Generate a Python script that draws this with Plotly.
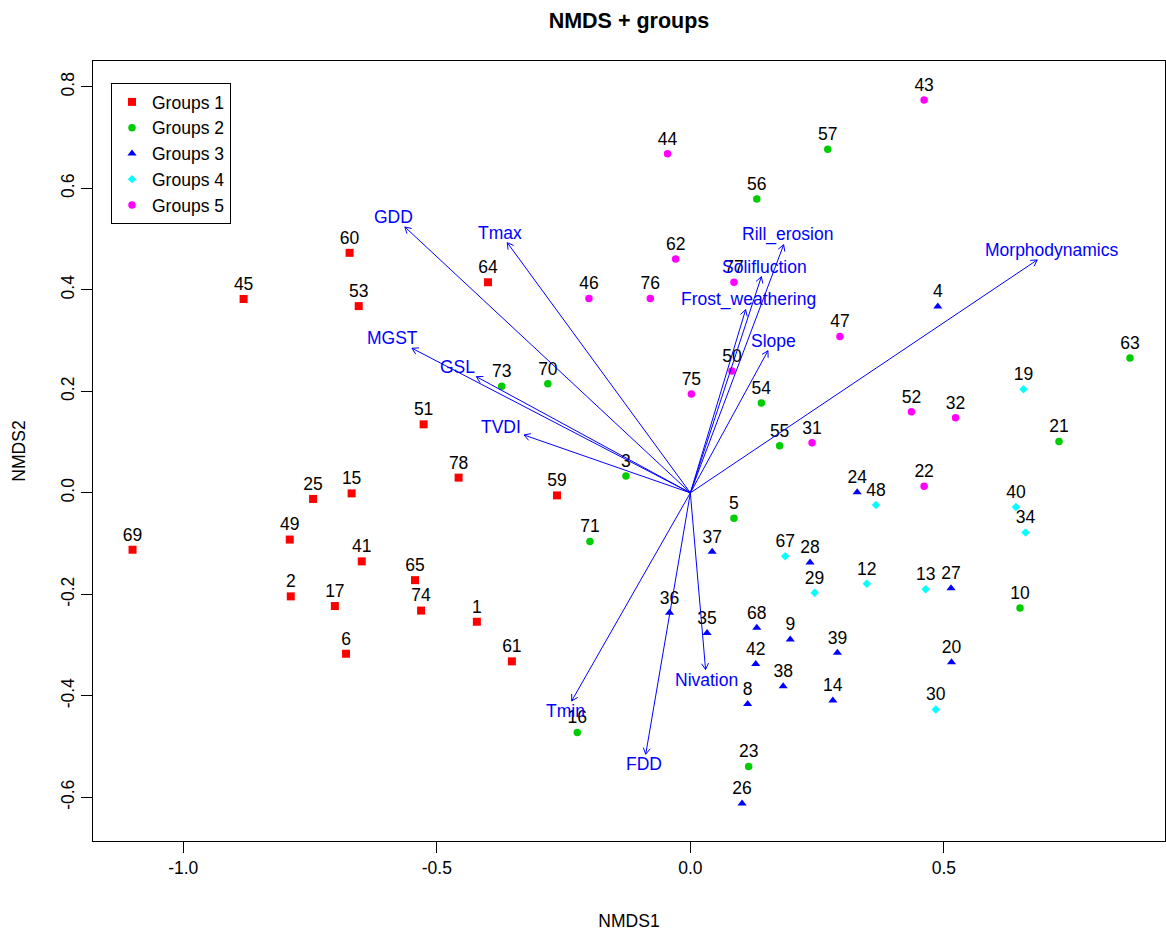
import math
import plotly.graph_objects as go

# ---- NMDS site scores, one block per cluster group ----
g1_site = [45, 60, 53, 64, 51, 78, 25, 15, 69, 49, 41, 65, 2, 17, 74, 1, 6, 61, 59]
g1_x = [-0.881, -0.672, -0.654, -0.399, -0.526, -0.457, -0.744, -0.668, -1.100, -0.790,
        -0.648, -0.543, -0.788, -0.701, -0.531, -0.421, -0.679, -0.352, -0.263]
g1_y = [0.382, 0.473, 0.368, 0.415, 0.135, 0.030, -0.012, -0.001, -0.112, -0.092,
        -0.135, -0.172, -0.204, -0.223, -0.232, -0.254, -0.317, -0.332, -0.005]

g2_site = [57, 56, 73, 70, 54, 55, 3, 71, 5, 63, 21, 10, 16, 23]
g2_x = [0.271, 0.131, -0.372, -0.281, 0.140, 0.176, -0.127, -0.198, 0.086, 0.867,
        0.727, 0.650, -0.223, 0.115]
g2_y = [0.677, 0.579, 0.210, 0.215, 0.177, 0.093, 0.033, -0.096, -0.050, 0.266,
        0.101, -0.227, -0.472, -0.539]

g3_site = [4, 24, 37, 28, 36, 35, 68, 9, 39, 42, 38, 8, 14, 26, 27, 20]
g3_x = [0.488, 0.329, 0.043, 0.236, -0.041, 0.033, 0.131, 0.197, 0.290, 0.129,
        0.183, 0.113, 0.281, 0.102, 0.514, 0.515]
g3_y = [0.367, 0.001, -0.116, -0.137, -0.236, -0.276, -0.266, -0.289, -0.315, -0.337,
        -0.381, -0.416, -0.409, -0.612, -0.188, -0.334]

g4_site = [19, 48, 40, 34, 67, 29, 12, 13, 30]
g4_x = [0.657, 0.366, 0.642, 0.661, 0.187, 0.245, 0.348, 0.464, 0.484]
g4_y = [0.204, -0.024, -0.028, -0.078, -0.125, -0.197, -0.179, -0.190, -0.427]

g5_site = [43, 44, 62, 46, 76, 77, 47, 50, 75, 31, 52, 32, 22]
g5_x = [0.461, -0.045, -0.029, -0.200, -0.079, 0.086, 0.295, 0.082, 0.002, 0.240,
        0.436, 0.523, 0.461]
g5_y = [0.774, 0.668, 0.461, 0.383, 0.383, 0.415, 0.308, 0.240, 0.195, 0.099,
        0.160, 0.148, 0.013]

group_names = ["Groups 1", "Groups 2", "Groups 3", "Groups 4", "Groups 5"]

# ---- fitted environmental vectors (envfit arrows) ----
env_names = ["GDD", "Tmax", "MGST", "GSL", "TVDI", "Rill_erosion", "Solifluction",
             "Frost_weathering", "Slope", "Morphodynamics", "Nivation", "Tmin", "FDD"]
env_x = [-0.563, -0.361, -0.549, -0.422, -0.328, 0.184, 0.140,
         0.109, 0.153, 0.684, 0.030, -0.234, -0.088]
env_y = [0.524, 0.493, 0.285, 0.229, 0.114, 0.489, 0.426,
         0.361, 0.280, 0.459, -0.348, -0.410, -0.515]

x_ticks = [-1.0, -0.5, 0.0, 0.5]
y_ticks = [-0.6, -0.4, -0.2, 0.0, 0.2, 0.4, 0.6, 0.8]

# ---- page / panel geometry ----
W, H = 1166, 931
ML, MR, MT, MB = 93, 1, 61, 90
X_RANGE = [-1.178, 0.936]
Y_RANGE = [-0.686, 0.851]
KX = (W - ML - MR) / (X_RANGE[1] - X_RANGE[0])   # px per data unit
KY = (H - MT - MB) / (Y_RANGE[1] - Y_RANGE[0])

FONT = "Liberation Sans, Arial, sans-serif"
FS = 17.5
ENV_COLOR = "#0000FF"

# Arial advance widths (1/1000 em) for the vector label characters
ADV = {"G": 778, "D": 722, "T": 611, "m": 833, "a": 556, "x": 500, "M": 833, "S": 667,
       "L": 556, "V": 667, "I": 278, "R": 722, "i": 222, "l": 222, "_": 556, "e": 556,
       "r": 333, "o": 556, "s": 500, "n": 556, "F": 611, "t": 278, "w": 722, "h": 556,
       "g": 556, "f": 278, "u": 556, "c": 500, "p": 556, "d": 556, "y": 500, "N": 722}


def text_width(s):
    return sum(ADV.get(ch, 556) for ch in s) / 1000.0 * FS


def arrow_label_xy(vx, vy, label):
    """Place the label centre on the continuation of the arrow (vegan-style)."""
    w = text_width(label)
    h = 13.5
    px, py = vx * KX, vy * KY
    offx = math.copysign(w / 2 + h / 4, px)
    offy = math.copysign(0.75 * h, py)
    b = py / px
    move = offy / b
    if abs(move) <= abs(offx):
        offx = move
    else:
        offy = b * offx
    return vx + offx / KX, vy + offy / KY


fig = go.Figure()

groups = [
    (g1_site, g1_x, g1_y, "#FF0000", "square", 8),
    (g2_site, g2_x, g2_y, "#00CD00", "circle", 7.5),
    (g3_site, g3_x, g3_y, "#0000FF", "triangle-up", 8),
    (g4_site, g4_x, g4_y, "#00FFFF", "diamond", 6.5),
    (g5_site, g5_x, g5_y, "#FF00FF", "circle", 7.5),
]

for name, (site, xs, ys, col, sym, size) in zip(group_names, groups):
    fig.add_trace(go.Scatter(
        x=xs, y=ys, mode="markers", name=name,
        marker=dict(color=col, symbol=sym, size=size, line=dict(width=0)),
        hoverinfo="skip",
    ))

# site numbers above the points
all_site = g1_site + g2_site + g3_site + g4_site + g5_site
all_x = g1_x + g2_x + g3_x + g4_x + g5_x
all_y = g1_y + g2_y + g3_y + g4_y + g5_y
fig.add_trace(go.Scatter(
    x=all_x, y=all_y, mode="markers+text", text=[str(s) for s in all_site],
    textposition="top center", textfont=dict(family=FONT, size=FS, color="black"),
    marker=dict(size=6, color="rgba(0,0,0,0)"), showlegend=False, hoverinfo="skip",
))

# vector shafts with open V heads
HEAD_LEN = 7.0
HEAD_ANG = math.radians(30)
ax_pts, ay_pts = [], []
for vx, vy in zip(env_x, env_y):
    ax_pts += [0, vx, None]
    ay_pts += [0, vy, None]
    ang = math.atan2(vy * KY, vx * KX)
    for sgn in (1, -1):
        a = ang + math.pi + sgn * HEAD_ANG
        hx = vx + HEAD_LEN * math.cos(a) / KX
        hy = vy + HEAD_LEN * math.sin(a) / KY
        ax_pts += [hx, vx, None]
        ay_pts += [hy, vy, None]
fig.add_trace(go.Scatter(
    x=ax_pts, y=ay_pts, mode="lines", line=dict(color=ENV_COLOR, width=1),
    showlegend=False, hoverinfo="skip",
))

annotations = []
for name, vx, vy in zip(env_names, env_x, env_y):
    lx, ly = arrow_label_xy(vx, vy, name)
    annotations.append(dict(
        x=lx, y=ly, xref="x", yref="y", text=name, showarrow=False,
        xanchor="center", yanchor="middle",
        font=dict(family=FONT, size=FS, color=ENV_COLOR),
    ))

axis_common = dict(
    showline=True, mirror=True, linecolor="black", linewidth=1,
    ticks="outside", ticklen=11, tickcolor="black", tickwidth=1,
    showgrid=False, zeroline=False,
    tickfont=dict(family=FONT, size=FS, color="black"),
    title_font=dict(family=FONT, size=FS, color="black"),
)

fig.update_layout(
    width=W, height=H,
    margin=dict(l=ML, r=MR, t=MT, b=MB),
    paper_bgcolor="white", plot_bgcolor="white",
    font=dict(family=FONT, size=FS, color="black"),
    title=dict(text="<b>NMDS + groups</b>", x=0.5, xref="paper",
               y=1 - 20 / H, yref="container", yanchor="middle",
               font=dict(family=FONT, size=21.5, color="black")),
    xaxis=dict(range=X_RANGE, tickvals=x_ticks,
               ticktext=[f"{v:.1f}" for v in x_ticks],
               title=dict(text="NMDS1", standoff=38), ticklabelstandoff=0,
               **axis_common),
    yaxis=dict(range=Y_RANGE, tickvals=y_ticks,
               ticktext=[f"{v:.1f}" for v in y_ticks], tickangle=-90,
               title=dict(text="NMDS2", standoff=27), ticklabelstandoff=0,
               **axis_common),
    legend=dict(x=(111 - ML) / (W - ML - MR), y=1 - (83 - MT) / (H - MT - MB),
                xanchor="left", yanchor="top", bgcolor="white",
                bordercolor="black", borderwidth=1, itemwidth=30,
                font=dict(family=FONT, size=FS, color="black")),
    annotations=annotations,
    showlegend=True,
)

fig.write_html("out.html")
